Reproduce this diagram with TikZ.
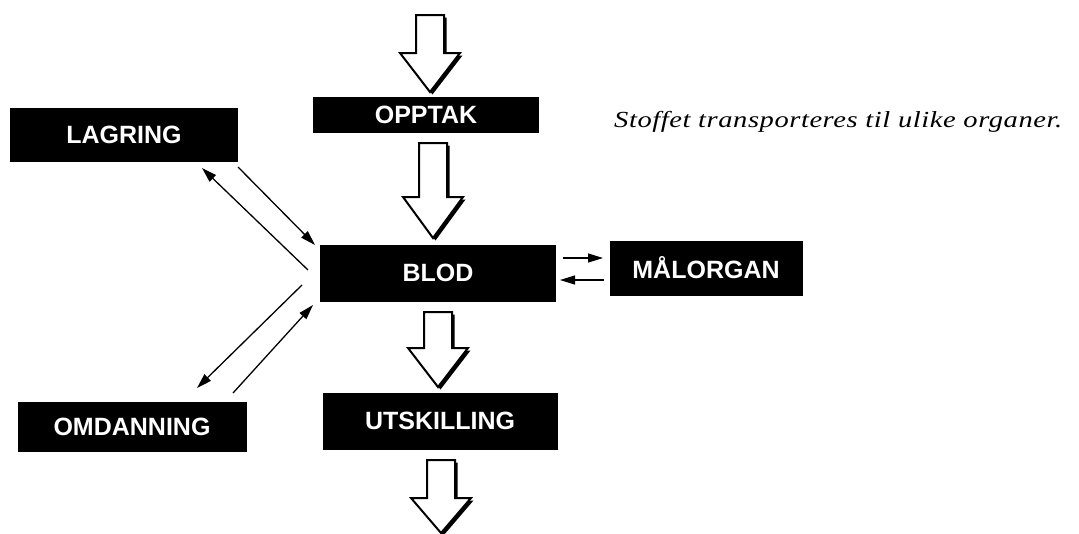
\documentclass[tikz,border=0pt]{standalone}
\usepackage{fontspec}
\setmainfont{Liberation Serif}
\newfontfamily\boxfont{Liberation Sans}
\newfontfamily\captfont[LetterSpace=2]{Liberation Serif}
\usetikzlibrary{arrows.meta}
\tikzset{
  blackbox/.style={fill=black, text=white, inner sep=0pt, font=\boxfont\bfseries\fontsize{25}{29}\selectfont},
  thinarrow/.style={line width=1.3pt, -{Triangle[length=15pt,width=9pt]}},
  hollowarrow/.style={draw=black, fill=white, line width=2pt, line join=miter},
  arrowshadow/.style={fill=black}
}
\newcommand{\blockarrow}[4]{% cx, ytop, yhead, ytip
  \fill[arrowshadow] (#1-14+2.5,#2+2.5) -- (#1+14+2.5,#2+2.5) -- (#1+14+2.5,#3+2.5) -- (#1+30+2.5,#3+2.5) -- (#1+2.5,#4+2.5) -- (#1-30+2.5,#3+2.5) -- (#1-14+2.5,#3+2.5) -- cycle;
  \path[hollowarrow] (#1-14,#2) -- (#1+14,#2) -- (#1+14,#3) -- (#1+30,#3) -- (#1,#4) -- (#1-30,#3) -- (#1-14,#3) -- cycle;
}
\begin{document}
\begin{tikzpicture}[x=1pt,y=-1pt]
\useasboundingbox (0,0) rectangle (1079,533);

% boxes
\node[blackbox, minimum width=226pt, minimum height=36pt] (opptak) at (426,115) {OPPTAK};
\node[blackbox, minimum width=228pt, minimum height=54pt] (lagring) at (124,135) {LAGRING};
\node[blackbox, minimum width=236pt, minimum height=57pt] (blod) at (438,273) {BLOD};
\node[blackbox, minimum width=193pt, minimum height=55pt] (malorgan) at (706,268) {MÅLORGAN};
\node[blackbox, minimum width=235pt, minimum height=57pt] (utskilling) at (440,421) {UTSKILLING};
\node[blackbox, minimum width=229pt, minimum height=50pt] (omdanning) at (132,427) {OMDANNING};

% caption
\node[anchor=base west, inner sep=0pt] (capt) at (614,127)
  {\resizebox{448pt}{\height}{\captfont\itshape\fontsize{23}{27}\selectfont Stoffet transporteres til ulike organer.}};

% hollow block arrows
\blockarrow{430}{15}{53}{92}
\blockarrow{433}{143}{197}{238}
\blockarrow{438}{312}{348}{387}
\blockarrow{441}{460}{498}{533}

% thin arrows
\coordinate (l1s) at (308,270); \coordinate (l1e) at (202,168);
\coordinate (l2s) at (238,167); \coordinate (l2e) at (315,245);
\coordinate (o1s) at (302,285); \coordinate (o1e) at (197,388);
\coordinate (o2s) at (233,393); \coordinate (o2e) at (313,305);
\coordinate (m1s) at (563,258); \coordinate (m1e) at (603,258);
\coordinate (m2s) at (604,280); \coordinate (m2e) at (560,280);
\draw[thinarrow] (l1s) -- (l1e);
\draw[thinarrow] (l2s) -- (l2e);
\draw[thinarrow] (o1s) -- (o1e);
\draw[thinarrow] (o2s) -- (o2e);
\draw[thinarrow] (m1s) -- (m1e);
\draw[thinarrow] (m2s) -- (m2e);
\end{tikzpicture}
\end{document}
